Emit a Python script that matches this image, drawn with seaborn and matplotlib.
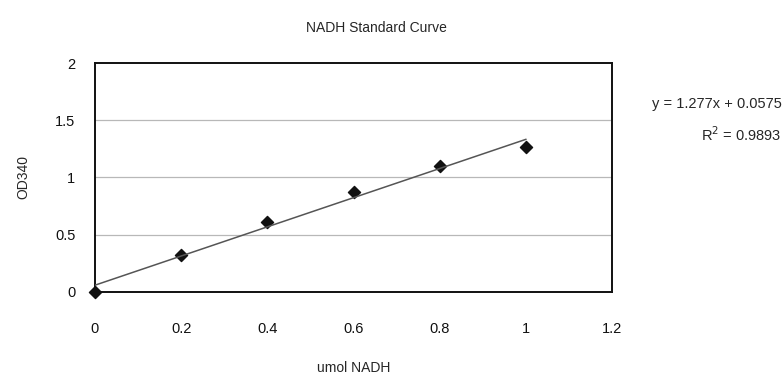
import numpy as np
import pandas as pd
import seaborn as sns
import matplotlib
matplotlib.use("Agg")
import matplotlib.pyplot as plt

# data
nadh_umol = [0.0, 0.2, 0.4, 0.6, 0.8, 1.0]
od340 = [0.0, 0.325, 0.61, 0.87, 1.10, 1.27]
x_ticks = [0, 0.2, 0.4, 0.6, 0.8, 1, 1.2]
y_ticks = [0, 0.5, 1, 1.5, 2]
equation_text = "y = 1.277x + 0.0575"
r2_text = "R$^2$ = 0.9893"

df = pd.DataFrame({"umol NADH": nadh_umol, "OD340": od340})

sns.set_style("white")
plt.rcParams["font.family"] = ["Liberation Sans", "DejaVu Sans"]

fig = plt.figure(figsize=(7.84, 3.78), dpi=100, facecolor="white")
ax = fig.add_axes([0.121, 0.228, 0.660, 0.605])

sns.regplot(data=df, x="umol NADH", y="OD340", ax=ax, ci=None, marker="D",
            scatter_kws={"color": "#111111", "s": 38, "alpha": 1, "zorder": 3, "clip_on": False},
            line_kws={"color": "#555555", "lw": 1.1, "zorder": 4})

ax.set_xlim(0, 1.2)
ax.set_ylim(0, 2)
ax.set_xticks(x_ticks)
ax.set_xticklabels([f"{t:g}" for t in x_ticks])
ax.set_yticks(y_ticks)
ax.set_yticklabels([f"{t:g}" for t in y_ticks])
ax.tick_params(axis="both", length=0, labelsize=10.5, colors="#111111")
ax.tick_params(axis="x", pad=22)
ax.tick_params(axis="y", pad=14)

for yv in y_ticks[1:-1]:
    ax.axhline(yv, color="#b8b8b8", lw=0.9, zorder=1)

for s in ax.spines.values():
    s.set_color("#111111")
    s.set_linewidth(1.4)

ax.set_xlabel("umol NADH", fontsize=10, labelpad=18)
ax.set_ylabel("OD340", fontsize=10, labelpad=18)

fig.text(0.48, 0.925, "NADH Standard Curve", ha="center", va="center", fontsize=10)
fig.text(0.997, 0.725, equation_text, ha="right", va="center", fontsize=10.5)
fig.text(0.997, 0.645, r2_text, ha="right", va="center", fontsize=10.5)

fig.savefig("out.png", dpi=100, facecolor="white")
